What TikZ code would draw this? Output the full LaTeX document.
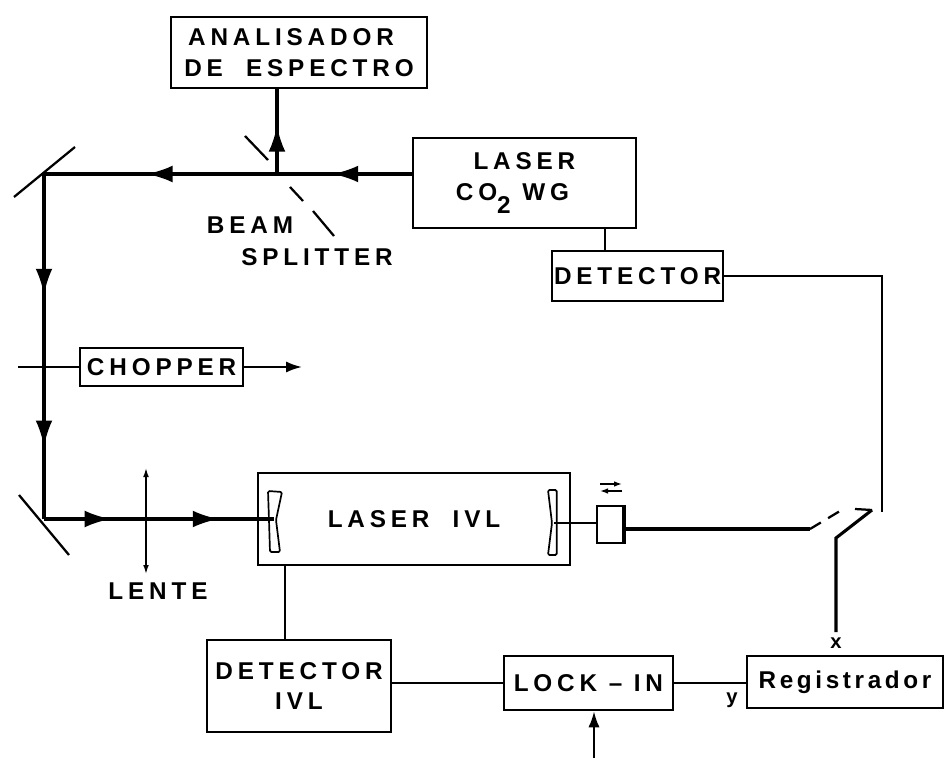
\documentclass[tikz,border=0pt]{standalone}
\usepackage{fontspec}
\usepackage{tikz}
\usetikzlibrary{arrows.meta,decorations.markings}
\newfontfamily\labfont[LetterSpace=20.0]{Liberation Sans}
\newfontfamily\regfont[LetterSpace=15.0]{Liberation Sans}
\tikzset{
  boxed/.style={draw=black, line width=1.8pt, fill=white, inner sep=0pt,
                align=center, font=\LARGE\labfont\bfseries},
  lab/.style={font=\LARGE\labfont\bfseries},
  beam/.style={black, line width=2.2pt},
  wire/.style={black, line width=1.6pt},
  optic/.style={black, line width=1.6pt},
  onetip/.style={postaction={decorate}, decoration={markings,
    mark=at position #1 with {\arrow{Latex[length=6.5mm,width=4.2mm]}}}},
  twotips/.style 2 args={postaction={decorate}, decoration={markings,
    mark=at position #1 with {\arrow{Latex[length=6.5mm,width=4.2mm]}},
    mark=at position #2 with {\arrow{Latex[length=6.5mm,width=4.2mm]}}}},
  smalltip/.style={-{Latex[length=4mm,width=2.8mm]}},
}

\begin{document}
\begin{tikzpicture}[x=1cm,y=1cm]
  \path[use as bounding box] (0,0) rectangle (23.6,18.95);

  % boxes
  \node[boxed, minimum width=6.4cm, minimum height=1.775cm] (ana) at (7.475,17.64)
    {ANALISADOR\hspace{0.4cm}\mbox{}\\DE\ \ ESPECTRO};
  \node[boxed, minimum width=5.575cm, minimum height=2.25cm] (co2) at (13.11,14.375)
    {LASER\\CO\raisebox{-1ex}{\LARGE 2} WG\hspace{0.6cm}\mbox{}};
  \node[boxed, minimum width=4.275cm, minimum height=1.25cm] (det) at (15.94,12.05)
    {DETECTOR};
  \node[boxed, minimum width=4.075cm, minimum height=0.95cm] (chop) at (4.04,9.775)
    {CHOPPER};
  \node[boxed, minimum width=7.8cm, minimum height=2.3cm] (ivl) at (10.35,5.975)
    {LASER\ \ IVL};
  \node[boxed, minimum width=4.6cm, minimum height=2.3cm] (detivl) at (7.475,1.8)
    {DETECTOR\\IVL};
  \node[boxed, minimum width=4.225cm, minimum height=1.35cm] (lock) at (14.71,1.875)
    {LOCK – IN};
  \node[boxed, minimum width=4.9cm, minimum height=1.3cm, font=\LARGE\regfont\bfseries] (reg) at (21.125,1.9)
    {Registrador};
  \node[draw=black, line width=1.6pt, fill=white, minimum width=0.65cm,
        minimum height=0.925cm, inner sep=0pt] (pzt) at (15.25,5.8375) {};
  \draw[black, line width=2.6pt] (pzt.north east) -- (pzt.south east);

  % free labels
  \node[lab] (beamlab) at (6.25,13.325) {BEAM};
  \node[lab] (splitlab) at (7.925,12.525) {SPLITTER};
  \node[lab] (lentelab) at (3.95,4.175) {LENTE};
  \node[lab, font=\Large\labfont\bfseries] (xlab) at (20.9,2.875) {x};
  \node[lab, font=\Large\labfont\bfseries] (ylab) at (18.3,1.45) {y};

  % points of the optical path
  \coordinate (bs) at (6.925,14.6);
  \coordinate (mtop) at (1.1,14.6);
  \coordinate (mbot) at (1.1,5.975);
  \coordinate (mleft) at (6.85,5.975);
  \coordinate (mright) at (13.85,5.875);
  \coordinate (lenstop) at (3.65,7.275);
  \coordinate (lensbot) at (3.65,4.575);
  \coordinate (chopin) at (0.45,9.775);
  \coordinate (chopout) at (7.55,9.775);

  % mirrors and beam splitter
  \draw[optic] (0.35,14.025) -- (1.875,15.275);
  \draw[optic] (0.475,6.575) -- (1.725,5.075);
  \draw[optic] (6.125,15.55) -- (6.7,14.95);
  \draw[optic] (7.25,14.275) -- (7.575,13.925);
  \draw[optic] (7.825,13.675) -- (8.35,13.05);
  \draw[wire, line width=1.2pt, rounded corners=1pt]
    (6.7,6.675) -- (7.05,6.65) -- (6.9,5.95) -- (7.0,5.15) -- (6.75,5.15) -- (6.725,5.95) -- cycle;
  \draw[wire, line width=1.2pt, rounded corners=1pt]
    (13.7,6.7) -- (13.92,6.7) -- (13.92,5.075) -- (13.7,5.075) -- (13.8,5.875) -- cycle;

  % beams
  \draw[beam, onetip=0.59] (co2.west |- bs) -- (bs);
  \draw[beam, onetip=0.56] (bs) -- (mtop);
  \draw[beam, onetip=0.57] (bs) -- (ana.south -| bs);
  \draw[beam, twotips={0.35}{0.79}] (mtop) -- (mbot);
  \draw[beam, twotips={0.29}{0.76}] (mbot) -- (mleft);
  \draw[optic, {Latex[length=2.5mm,width=1.4mm]}-{Latex[length=2.5mm,width=1.4mm]}] (lenstop) -- (lensbot);

  % chopper blade
  \draw[wire] (chopin) -- (chop.west);
  \draw[wire, smalltip] (chop.east) -- (chopout);

  % electronics
  \coordinate (swa) at (20.25,5.725);
  \coordinate (swb) at (21.0,6.175);
  \coordinate (pivot) at (20.9,5.5);
  \coordinate (swarm) at (21.8,6.2);
  \coordinate (swtick) at (21.375,6.225);
  \coordinate (swc) at (22.05,6.15);
  \coordinate (xtop) at (20.9,3.15);
  \coordinate (refin) at (14.85,0);

  \draw[wire] (co2.south -| 15.125,0) -- (det.north -| 15.125,0);
  \draw[wire] (det.east) -| (swc);
  \draw[wire] (ivl.south -| 7.125,0) -- (detivl.north -| 7.125,0);
  \draw[wire] (detivl.east |- lock.west) -- (lock.west);
  \draw[wire] (lock.east) -- (reg.west |- lock.east);
  \draw[wire, smalltip] (refin) -- (lock.south -| refin);
  \draw[wire] (mright) -- (pzt.west |- mright);
  \draw[beam] (pzt.east |- swa) -- (swa);
  \draw[wire, dash pattern=on 9pt off 6pt] (swa) -- (swb);
  \draw[beam] (xtop) -- (pivot) -- (swarm);
  \draw[wire] (swarm) -- (swtick);

  % scan arrows over the mirror drive
  \coordinate (scana) at (15.0,6.85);
  \coordinate (scanb) at (15.55,6.85);
  \coordinate (scanc) at (15.55,6.675);
  \coordinate (scand) at (15.0,6.675);
  \draw[black, line width=1pt, -{Latex[length=2mm,width=1.4mm]}] (scana) -- (scanb);
  \draw[black, line width=1pt, -{Latex[length=2mm,width=1.4mm]}] (scanc) -- (scand);
\end{tikzpicture}
\end{document}
